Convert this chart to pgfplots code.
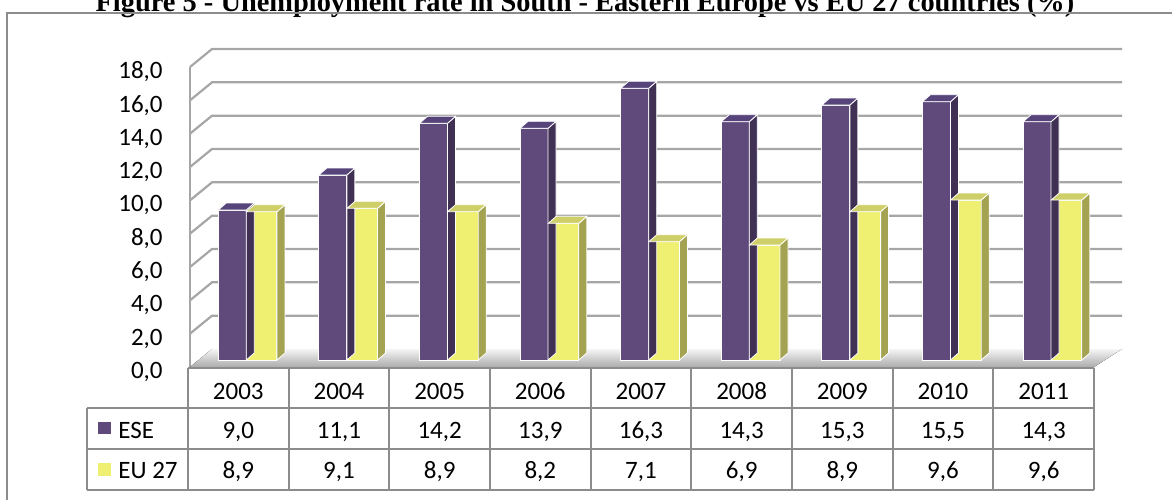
\documentclass[border=0pt]{standalone}
\usepackage{pgfplots}
\pgfplotsset{compat=1.18}
\usepackage{pgfplotstable}
\usepackage{fontspec}
\setmainfont{Carlito}
\newfontfamily\titlefont{Liberation Serif}
\definecolor{esefront}{HTML}{604A7B}
\definecolor{eseside}{HTML}{3F3054}
\definecolor{esetop}{HTML}{56447A}
\definecolor{eufront}{HTML}{EFEF72}
\definecolor{euside}{HTML}{A3A352}
\definecolor{eutop}{HTML}{CFCF6A}
\definecolor{gridc}{HTML}{A6A6A6}
\definecolor{framec}{HTML}{8C8C8C}

\pgfplotstableread{
year ese eu
2003 9.0 8.9
2004 11.1 9.1
2005 14.2 8.9
2006 13.9 8.2
2007 16.3 7.1
2008 14.3 6.9
2009 15.3 8.9
2010 15.5 9.6
2011 14.3 9.6
}\data

\pgfdeclareplotmark{blank}{}
\pgfplotsset{
  bar3d/.style n args={3}{%
    only marks, mark=blank, scatter,
    scatter/@pre marker code/.code={%
      \pgfmathsetlengthmacro\h{\val*8.33333pt}%
      \filldraw[fill=#2, draw=white, line width=0.4pt] (#1,0pt) -- (#1+4pt,3.5pt) -- (#1+4pt,3.5pt-\h) -- (#1,-\h) -- cycle;
      \filldraw[fill=#3, draw=white, line width=0.4pt] (-#1,0pt) -- (#1,0pt) -- (#1+4pt,3.5pt) -- (-#1+4pt,3.5pt) -- cycle;
    },
    scatter/@post marker code/.code={},
  },
}
\newcommand\tfont{\fontsize{12.5}{14}\selectfont}

\begin{document}
\begin{tikzpicture}
\useasboundingbox (0,0) rectangle (586pt,-249.5pt);
\begin{scope}[x=0.5pt,y=-0.5pt]
  % title (cut by the page top, as in the reference)
  \node[anchor=base, font=\titlefont\bfseries\fontsize{14.2}{17}\selectfont] at (585,11)
    {Figure 5 - Unemployment rate in South - Eastern Europe vs EU 27 countries (\%)};
  % frame
  \draw[framec, line width=1pt] (7,520) -- (7,13) -- (1190,13);
  % walls and grid
  \foreach \v in {2,4,...,18} {
    \draw[gridc, line width=1.1pt] (190,{367-16.6667*\v}) -- (212,{349-16.6667*\v}) -- (1122,{349-16.6667*\v});
  }
  \draw[gridc, line width=1.1pt] (190,67) -- (190,367);
  % floor
  \fill[top color=white!92!gray, bottom color=gray!65] (190,367) -- (1094,367) -- (1122,349) -- (212,349) -- cycle;
\end{scope}

\begin{axis}[
  at={(94pt,-180pt)}, anchor=south west,
  x=50.3pt, y=8.33333pt,
  xmin=0, xmax=9, ymin=0, ymax=18,
  axis line style={draw=none},
  xtick=\empty,
  ytick={0,2,...,18},
  major tick length=0pt,
  yticklabel style={font=\tfont, anchor=east, inner sep=0pt, xshift=-12.5pt, yshift=-6pt,
    /pgf/number format/fixed, /pgf/number format/fixed zerofill,
    /pgf/number format/precision=1, /pgf/number format/use comma,
    /pgf/number format/assume math mode=true},
  clip=false,
]
\addplot[ybar, bar width=14pt, bar shift=0pt, fill=esefront, draw=white, line width=0.5pt]
  table[x expr=\coordindex+0.44, y=ese]{\data};
\addplot[bar3d={7pt}{eseside}{esetop}, visualization depends on={\thisrow{ese} \as \val}]
  table[x expr=\coordindex+0.44, y=ese]{\data};
\addplot[ybar, bar width=15.3pt, bar shift=0pt, fill=eufront, draw=white, line width=0.5pt]
  table[x expr=\coordindex+0.7325, y=eu]{\data};
\addplot[bar3d={7.65pt}{euside}{eutop}, visualization depends on={\thisrow{eu} \as \val}]
  table[x expr=\coordindex+0.7325, y=eu]{\data};
\end{axis}

\begin{scope}[x=0.5pt,y=-0.5pt]
  % data table
  \draw[framec, line width=1pt] (188,368) -- (1094,368);
  \foreach \yy in {408,449,490} \draw[framec, line width=1pt] (87,\yy) -- (1094,\yy);
  \draw[framec, line width=1pt] (87,408) -- (87,490);
  \foreach \k in {0,...,9} \draw[framec, line width=1pt] ({188+100.67*\k},368) -- ({188+100.67*\k},490);
  \foreach \yr [count=\k from 0] in {2003,2004,2005,2006,2007,2008,2009,2010,2011}
    \node[anchor=base, font=\tfont, inner sep=0pt] at ({238.3+100.67*\k},399) {\yr};
  \foreach \t [count=\k from 0] in {{9,0},{11,1},{14,2},{13,9},{16,3},{14,3},{15,3},{15,5},{14,3}}
    \node[anchor=base, font=\tfont, inner sep=0pt] at ({238.3+100.67*\k},438) {\t};
  \foreach \t [count=\k from 0] in {{8,9},{9,1},{8,9},{8,2},{7,1},{6,9},{8,9},{9,6},{9,6}}
    \node[anchor=base, font=\tfont, inner sep=0pt] at ({238.3+100.67*\k},478) {\t};
  \fill[esefront] (98,422) rectangle (111,434);
  \fill[eufront] (98,463) rectangle (111,476);
  \node[anchor=base west, font=\tfont, inner sep=0pt] at (118,438) {ESE};
  \node[anchor=base west, font=\tfont, inner sep=0pt] at (118,478) {EU 27};
\end{scope}
\end{tikzpicture}
\end{document}
